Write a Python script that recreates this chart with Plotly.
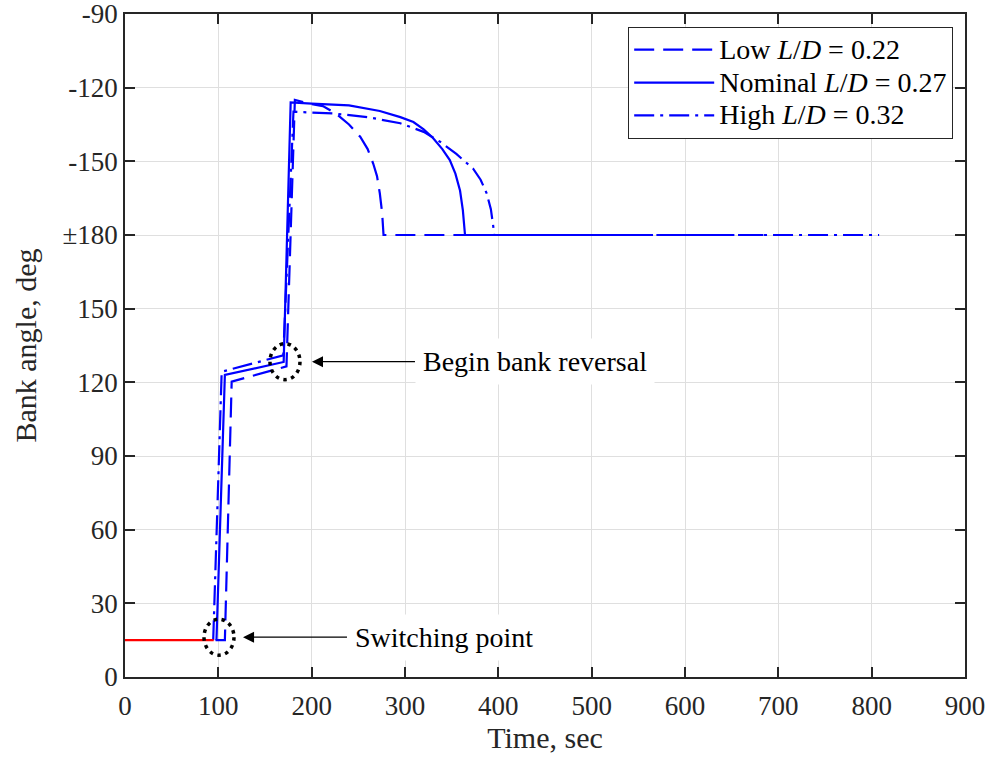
import plotly.graph_objects as go

# Bank angle histories (unwrapped: values above 180 are negative bank angles, e.g. 240 -> -120)
low_t = [97, 107, 114.3, 166, 173, 182, 200, 212, 226, 240, 252, 260, 266, 270, 273, 275.5, 277, 688]
low_v = [15, 15, 120.3, 125.5, 126.5, 235, 233.3, 232.5, 229.5, 225, 220, 215, 209, 204, 197, 189, 180, 180]

nom_t = [98, 107, 170, 177.5, 200, 240, 273, 295, 309, 320, 330, 340, 348, 354, 359, 362, 364.3, 545]
nom_v = [15, 123, 128.3, 234, 233.5, 232.8, 230.5, 228, 226, 223, 219.5, 215, 210.5, 205, 198, 190, 180, 180]

high_t = [94.5, 103.6, 169.6, 180.5, 223, 260, 295, 320, 337.5, 355, 373, 381, 387.5, 392, 394.6, 395.5, 808]
high_v = [15, 124.3, 131, 230.2, 229.5, 228, 225.5, 222, 218, 213, 207, 202.5, 197, 190.5, 183.4, 180, 180]

# Common constant-bank segment before the switch
pre_t = [0, 95]
pre_v = [15, 15]

# Annotated events
switch_pt = (100.7, 16.2)
reversal_pt = (171.4, 128.4)

x_ticks = [0, 100, 200, 300, 400, 500, 600, 700, 800, 900]
y_ticks = [0, 30, 60, 90, 120, 150, 180, 210, 240, 270]
y_tick_text = ["0", "30", "60", "90", "120", "150", "\u00b1180", "-150", "-120", "-90"]

FONT = "Liberation Serif, Times New Roman, serif"
BLUE = "#0000ff"
AXIS = "#262626"
GRID = "#dfdfdf"


def legend_name(text):
    # larger glyphs than the legend's row pitch, for a compact legend box
    return '<span style="font-size:28px">' + text + "</span>"


fig = go.Figure()

fig.add_trace(go.Scatter(x=low_t, y=low_v, mode="lines", name=legend_name("Low <i>L</i>/<i>D</i> = 0.22"),
                         line=dict(color=BLUE, width=2.2, dash="20px,9px")))
fig.add_trace(go.Scatter(x=nom_t, y=nom_v, mode="lines", name=legend_name("Nominal <i>L</i>/<i>D</i> = 0.27"),
                         line=dict(color=BLUE, width=2.2)))
fig.add_trace(go.Scatter(x=high_t, y=high_v, mode="lines", name=legend_name("High <i>L</i>/<i>D</i> = 0.32"),
                         line=dict(color=BLUE, width=2.2, dash="20px,6px,3px,6px")))
fig.add_trace(go.Scatter(x=pre_t, y=pre_v, mode="lines", showlegend=False,
                         line=dict(color="#ff0000", width=2.2)))

# Dotted rings around the events
for (px, py) in (switch_pt, reversal_pt):
    fig.add_shape(type="circle", xref="x", yref="y",
                  xsizemode="pixel", ysizemode="pixel",
                  xanchor=px, yanchor=py, x0=-15, x1=15, y0=-18, y1=18,
                  line=dict(color="black", width=3.5, dash="3.5px,4.5px"))

def event_label(pt, text, tail_dx, standoff):
    fig.add_annotation(x=pt[0], y=pt[1], xref="x", yref="y", text=text,
                       showarrow=True, ax=tail_dx, ay=0, xanchor="left", yanchor="middle",
                       arrowhead=2, arrowsize=1.7, arrowwidth=1.3, arrowcolor="black",
                       standoff=standoff, bgcolor="white", borderpad=7,
                       font=dict(family=FONT, size=28, color="black"))

event_label(reversal_pt, "Begin bank reversal", 130, 27)
event_label(switch_pt, "Switching point", 128, 24)

axis_common = dict(showline=True, linecolor=AXIS, linewidth=1.5, mirror="ticks",
                   ticks="inside", ticklen=10, tickwidth=1.5, tickcolor=AXIS,
                   showgrid=True, gridcolor=GRID, gridwidth=1, zeroline=False,
                   automargin=False, ticklabeloverflow="allow",
                   tickfont=dict(family=FONT, size=27, color=AXIS))

fig.update_xaxes(range=[0, 900], tickvals=x_ticks, ticklabelstandoff=4,
                 title=dict(text="Time, sec", font=dict(family=FONT, size=30, color=AXIS), standoff=6),
                 **axis_common)
fig.update_yaxes(range=[0, 270], tickvals=y_ticks, ticktext=y_tick_text,
                 title=dict(text="Bank angle, deg", font=dict(family=FONT, size=30, color=AXIS), standoff=17),
                 **axis_common)

fig.update_layout(
    width=990, height=761,
    margin=dict(l=125, r=25, t=14, b=84),
    paper_bgcolor="white", plot_bgcolor="white",
    font=dict(family=FONT, color="black"),
    legend=dict(x=0.9857, y=0.9804, xanchor="right", yanchor="top",
                bgcolor="white", bordercolor=AXIS, borderwidth=1.2,
                font=dict(family=FONT, size=23, color="black"),
                tracegroupgap=0, itemwidth=80),
)

fig.write_html("out.html")
